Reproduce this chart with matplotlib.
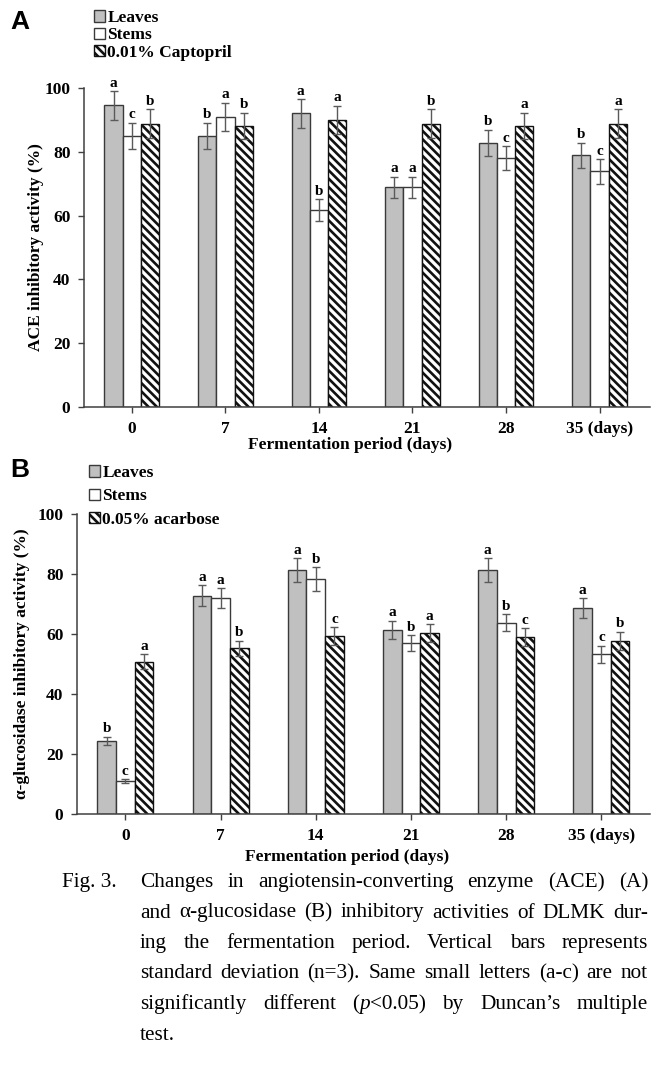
import matplotlib
matplotlib.use('Agg')
import matplotlib.pyplot as plt
import numpy as np

# --- DADOS ---
days = ['0', '7', '14', '21', '28', '35 (days)']

# Painel A - ACE
ace_leaves = [94.6, 85.0, 92.1, 68.9, 82.9, 79.0]
ace_leaves_sd = [4.5, 4.2, 4.5, 3.4, 4.1, 3.9]
ace_stems = [85.0, 91.0, 61.8, 68.9, 78.0, 73.9]
ace_stems_sd = [4.2, 4.5, 3.4, 3.4, 3.8, 3.8]
ace_capt = [88.9, 88.2, 90.0, 88.9, 88.2, 88.9]
ace_capt_sd = [4.5, 4.2, 4.5, 4.5, 4.1, 4.6]
ace_let_leaves = ['a', 'b', 'a', 'a', 'b', 'b']
ace_let_stems = ['c', 'a', 'b', 'a', 'c', 'c']
ace_let_capt = ['b', 'b', 'a', 'b', 'a', 'a']

# Painel B - alfa-glucosidase
glu_leaves = [24.4, 72.7, 81.2, 61.4, 81.2, 68.6]
glu_leaves_sd = [1.4, 3.5, 4.0, 3.0, 4.0, 3.3]
glu_stems = [11.1, 72.0, 78.2, 57.0, 63.8, 53.3]
glu_stems_sd = [0.6, 3.2, 4.0, 2.7, 2.9, 2.8]
glu_acar = [50.8, 55.2, 59.4, 60.3, 58.9, 57.8]
glu_acar_sd = [2.5, 2.6, 2.9, 3.0, 3.0, 3.0]
glu_let_leaves = ['b', 'a', 'a', 'a', 'a', 'a']
glu_let_stems = ['c', 'a', 'b', 'b', 'b', 'c']
glu_let_acar = ['a', 'b', 'c', 'a', 'c', 'b']

caption_label = 'Fig. 3.'
caption_lines = [
    [["Changes"], ["in"], ["angiotensin-converting"], ["enzyme"], ["(ACE)"], ["(A)"]],
    [["and"], ["α-glucosidase"], ["(B)"], ["inhibitory"], ["activities"], ["of"], ["DLMK"], ["dur-"]],
    [["ing"], ["the"], ["fermentation"], ["period."], ["Vertical"], ["bars"], ["represents"]],
    [["standard"], ["deviation"], ["(n=3)."], ["Same"], ["small"], ["letters"], ["(a-c)"], ["are"], ["not"]],
    [["significantly"], ["different"], ["(", "p", "<0.05)"], ["by"], ["Duncan’s"], ["multiple"]],
    [["test."]],
]

plt.rcParams['font.family'] = 'Liberation Serif'
plt.rcParams['hatch.linewidth'] = 1.9
plt.rcParams['hatch.color'] = '#111111'

W, H = 666, 1083
fig = plt.figure(figsize=(W / 100, H / 100), dpi=100)

EDGE = '#3a3a3a'
GRAY = '#c0c0c0'
ERR = '#5a5a5a'


def painel(rect, xlim, leaves, leaves_sd, stems, stems_sd, ref, ref_sd,
           lets, ref_label, ylabel, ylabel_x, xlabel_pos, leg_anchor, leg_spacing):
    ax = fig.add_axes(rect)
    x = np.arange(len(days))
    w = 0.196
    series = [
        (leaves, leaves_sd, dict(color=GRAY, edgecolor=EDGE), 'Leaves', -w),
        (stems, stems_sd, dict(color='white', edgecolor=EDGE), 'Stems', 0),
        (ref, ref_sd, dict(color='white', edgecolor='#111111', hatch='\\\\\\\\'), ref_label, w),
    ]
    for (vals, sd, style, lab, off), lt in zip(series, lets):
        ax.bar(x + off, vals, w, linewidth=1.0, label=lab, zorder=2, **style)
        ax.errorbar(x + off, vals, yerr=sd, fmt='none', ecolor=ERR,
                    elinewidth=1.0, capsize=3.2, capthick=1.0, zorder=3)
        for xi, v, s, t in zip(x + off, vals, sd, lt):
            ax.annotate(t, (xi, v + s), xytext=(0, 1), textcoords='offset points',
                        ha='center', va='bottom', fontsize=11, fontweight='bold')
    ax.set_xlim(*xlim)
    ax.set_ylim(0, 100)
    ax.set_yticks(np.arange(0, 101, 20))
    ax.set_xticks(x)
    ax.set_xticklabels(days)
    for s in ['top', 'right']:
        ax.spines[s].set_visible(False)
    for s in ['left', 'bottom']:
        ax.spines[s].set_color('#404040')
        ax.spines[s].set_linewidth(1.1)
    ax.tick_params(axis='both', length=4, width=1.0, color='#404040', labelsize=12.5)
    ax.tick_params(axis='y', pad=6)
    ax.tick_params(axis='x', pad=6)
    for lab in ax.get_xticklabels() + ax.get_yticklabels():
        lab.set_fontweight('bold')
    ax.set_ylabel(ylabel, fontsize=12.5, fontweight='bold', va='center')
    ax.yaxis.set_label_coords(ylabel_x, 0.5)
    ax.set_xlabel('Fermentation period (days)', fontsize=12.5, fontweight='bold', va='center')
    ax.xaxis.set_label_coords(*xlabel_pos)
    ax.legend(loc='upper left', bbox_to_anchor=leg_anchor, bbox_transform=fig.transFigure,
              frameon=False, handlelength=0.62, handleheight=0.62, handletextpad=0.15,
              labelspacing=leg_spacing, borderpad=0, borderaxespad=0,
              prop={'weight': 'bold', 'size': 12.5})
    return ax


axA = painel([84.3 / W, 1 - 406.8 / H, 565.7 / W, 318.5 / H], (-0.51, 5.54),
             ace_leaves, ace_leaves_sd, ace_stems, ace_stems_sd, ace_capt, ace_capt_sd,
             [ace_let_leaves, ace_let_stems, ace_let_capt], '0.01% Captopril',
             'ACE inhibitory activity (%)', -0.085, (0.4697, -0.12),
             (94 / W, 1 - 10 / H), 0.08)

axB = painel([77.3 / W, 1 - 814 / H, 572.7 / W, 300 / H], (-0.504, 5.51),
             glu_leaves, glu_leaves_sd, glu_stems, glu_stems_sd, glu_acar, glu_acar_sd,
             [glu_let_leaves, glu_let_stems, glu_let_acar], '0.05% acarbose',
             'α-glucosidase inhibitory activity (%)', -0.0966, (0.471, -0.143),
             (89 / W, 1 - 465 / H), 0.42)

fig.text(10 / W, 1 - 10 / H, 'A', family='Liberation Sans', fontweight='bold',
         fontsize=19, ha='left', va='top')
fig.text(10 / W, 1 - 458 / H, 'B', family='Liberation Sans', fontweight='bold',
         fontsize=19, ha='left', va='top')

# --- LEGENDA DA FIGURA (justificada) ---
renderer = fig.canvas.get_renderer()
cap_size = 15.3
indent, right = 140, 648
fig.text(62 / W, 1 - 887 / H, caption_label, fontsize=cap_size, ha='left', va='baseline')
for i, words in enumerate(caption_lines):
    ybase = 1 - (887 + 30.5 * i) / H
    objs = []
    widths = []
    for word in words:
        segs = []
        wsum = 0
        for k, seg in enumerate(word):
            st = 'italic' if (len(word) == 3 and k == 1) else 'normal'
            t = fig.text(0, ybase, seg, fontsize=cap_size, fontstyle=st,
                         ha='left', va='baseline')
            wpx = t.get_window_extent(renderer).width
            segs.append((t, wsum))
            wsum += wpx
        objs.append(segs)
        widths.append(wsum)
    if i == len(caption_lines) - 1 or len(words) == 1:
        gap = 5
    else:
        gap = (right - indent - sum(widths)) / (len(words) - 1)
    xc = indent
    for segs, wd in zip(objs, widths):
        for t, off in segs:
            t.set_x((xc + off) / W)
        xc += wd + gap

fig.savefig('out.png', dpi=100)
